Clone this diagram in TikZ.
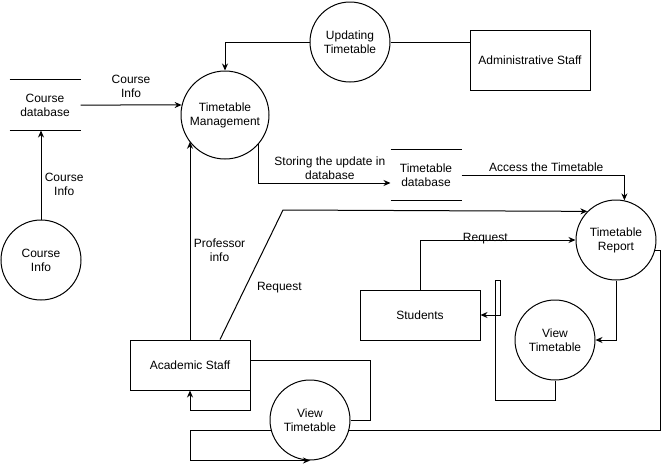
\documentclass[tikz,border=0pt]{standalone}
\usepackage{fontspec}
\setmainfont{Liberation Sans}
\usetikzlibrary{arrows.meta}

\begin{document}
\begin{tikzpicture}[
	x=1pt, y=-1pt, line width=1pt,
	font=\fontsize{12}{14}\selectfont,
	every node/.style={ align=center },
	process/.style={ circle, draw, inner sep=0pt, minimum size=80pt },
	entity/.style={ rectangle, draw, minimum width=120pt, minimum height=50pt },
	store/.style={ inner sep=0pt, minimum width=70pt, minimum height=50pt },
	flow/.style={ -{Stealth[length=7pt,width=6pt]} }
]
\useasboundingbox (0,0) rectangle (669,469);

\node at (41,260) (ci) [process] {Course\\Info};
\node at (45,105) (cdb) [store] {Course\\database};
\node at (225,115) (tm) [process,minimum size=88pt] {Timetable\\Management};
\node at (350,42) (ut) [process] {Updating\\Timetable};
\node at (530,60) (adm) [entity,minimum height=60pt] {Administrative Staff};
\node at (426,175) (tdb) [store] {Timetable\\database};
\node at (616,240) (tr) [process] {Timetable\\Report};
\node at (420,315) (stu) [entity] {Students};
\node at (555,340) (vts) [process] {View\\Timetable};
\node at (190,365) (acad) [entity] {Academic Staff};
\node at (310,420) (vta) [process] {View\\Timetable};
\coordinate (bend) at (283,210);

\draw (cdb.north west) -- (cdb.north east) (cdb.south west) -- (cdb.south east);
\draw (tdb.north west) -- (tdb.north east) (tdb.south west) -- (tdb.south east);

\draw[flow] (cdb.east) to node[above,yshift=4pt] {Course\\Info} (tm.167);
\draw[flow] (ci.north) to node[right,pos=0.4] {Course\\Info} (ci.north |- cdb.south);
\draw[flow] (ut.west) -| (tm.north);
\draw (ut.east) -- (ut.east -| adm.west);
\draw[flow] (tm.-41) |- node[above,pos=0.77] {Storing the update in\\database} ([yshift=-8pt]tdb.west);
\draw[flow] (tdb.east) -| node[above,pos=0.26] {Access the Timetable} (tr.78);
\draw[flow] (acad.north) to node[right,pos=0.45] {Professor\\info} (acad.north |- tm.-143);
\draw[flow] ([xshift=30pt]acad.north) to node[right,pos=0.4,xshift=8pt] {Request} (bend) -- (tr.135);
\draw[flow] (stu.north) |- node[pos=0.71,yshift=1pt] {Request} (tr.west);
\draw[flow] (tr.south) |- (vts.east);
\draw[flow] (vts.south) -- ++(0,20) -| ++(-60,-120) -- ++(5,0) |- (stu.east);
\draw (tr.-15) -- ++(5,0) |- (vta.-15);
\draw[flow] (vta.195) -- ++(-80,0) |- (vta.south);
\draw ([yshift=5pt]acad.east) -- ++(120,0) |- (vta.east);
\draw[flow] (acad.south east) -- ++(0,20) -| (acad.south);

\end{tikzpicture}
\end{document}
